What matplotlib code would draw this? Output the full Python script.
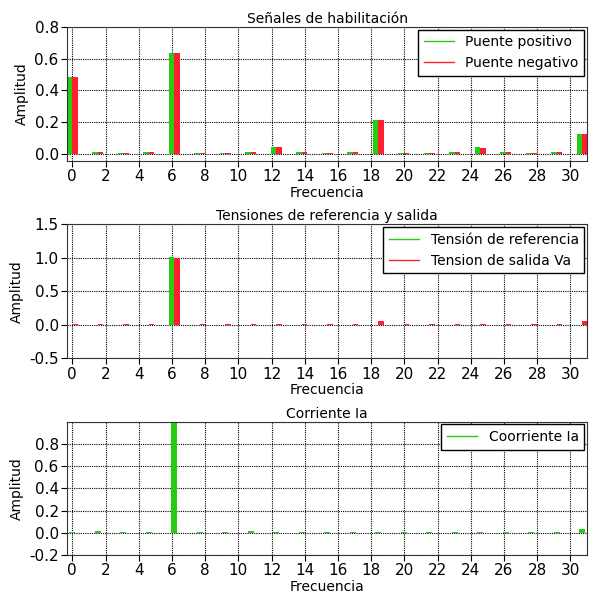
import matplotlib.pyplot as plt
from matplotlib.lines import Line2D

# armónicos (k * f0)
freq = [1.535 * k for k in range(21)]

puente_pos = [0.485, 0.01, 0.005, 0.008, 0.638, 0.005, 0.005, 0.01, 0.04, 0.008, 0.005,
              0.008, 0.212, 0.005, 0.005, 0.008, 0.042, 0.008, 0.005, 0.008, 0.125]
puente_neg = [0.485, 0.01, 0.005, 0.008, 0.638, 0.005, 0.005, 0.01, 0.04, 0.008, 0.005,
              0.008, 0.212, 0.005, 0.005, 0.008, 0.038, 0.008, 0.005, 0.008, 0.125]

tension_ref = [0.0, 0.002, 0.0, 0.0, 1.01, 0.0, 0.0, 0.0, 0.0, 0.0, 0.0,
               0.0, 0.0, 0.0, 0.0, 0.0, 0.0, 0.0, 0.0, 0.0, 0.0]
tension_va = [0.005, 0.008, 0.005, 0.005, 0.995, 0.005, 0.005, 0.008, 0.005, 0.008, 0.005,
              0.005, 0.06, 0.005, 0.005, 0.008, 0.005, 0.008, 0.005, 0.005, 0.06]

corriente = [0.004, 0.012, 0.003, 0.003, 1.05, 0.003, 0.003, 0.012, 0.003, 0.005, 0.003,
             0.003, 0.003, 0.003, 0.003, 0.003, 0.003, 0.003, 0.003, 0.003, 0.03]

xticks = list(range(0, 31, 2))

GREEN = "#26cc14"
RED = "#ff1f2e"
W = 0.33

plt.rcParams["font.family"] = ["DejaVu Sans"]
plt.rcParams["font.size"] = 10

fig = plt.figure(figsize=(5.95, 5.97), dpi=100, facecolor="white")


def style_axes(ax, title, ylim, yticks):
    ax.set_xlim(-0.32, 31)
    ax.set_ylim(*ylim)
    ax.set_xticks(xticks)
    ax.set_yticks(yticks)
    ax.set_yticklabels([f"{t:.1f}" for t in yticks])
    ax.grid(True, color="black", linestyle=(0, (1, 1)), linewidth=0.8)
    ax.set_axisbelow(True)
    ax.set_title(title, fontsize=10, pad=3)
    ax.set_xlabel("Frecuencia", fontsize=10, labelpad=1)
    ax.set_ylabel("Amplitud", fontsize=10, labelpad=4)
    ax.tick_params(direction="out", length=4, width=0.8, pad=2, labelsize=11)
    for sp in ax.spines.values():
        sp.set_color("#333333")


def legend(ax, labels, colors):
    handles = [Line2D([], [], color=c, lw=1) for c in colors]
    ax.legend(handles, labels, loc="upper right", fancybox=False, edgecolor="black",
              framealpha=1, borderaxespad=0.2, handlelength=2.2, fontsize=10)


ax1 = fig.add_axes([0.1126, 0.7303, 0.874, 0.2245])
ax1.bar([f - W / 2 for f in freq], puente_pos, width=W, color=GREEN)
ax1.bar([f + W / 2 for f in freq], puente_neg, width=W, color=RED)
style_axes(ax1, "Señales de habilitación", (-0.047, 0.8), [0.0, 0.2, 0.4, 0.6, 0.8])
legend(ax1, ["Puente positivo", "Puente negativo"], [GREEN, RED])

ax2 = fig.add_axes([0.1126, 0.3998, 0.874, 0.2245])
ax2.bar([f - W / 2 for f in freq], tension_ref, width=W, color=GREEN)
ax2.bar([f + W / 2 for f in freq], tension_va, width=W, color=RED)
style_axes(ax2, "Tensiones de referencia y salida", (-0.5, 1.5), [-0.5, 0.0, 0.5, 1.0, 1.5])
legend(ax2, ["Tensión de referencia", "Tension de salida Va"], [GREEN, RED])

ax3 = fig.add_axes([0.1126, 0.0704, 0.874, 0.2232])
ax3.bar(freq, corriente, width=0.36, color=GREEN)
style_axes(ax3, "Corriente Ia", (-0.2, 1.0), [-0.2, 0.0, 0.2, 0.4, 0.6, 0.8])
ax3.set_yticks([1.0], minor=True)
ax3.grid(True, which="minor", color="black", linestyle=(0, (1, 1)), linewidth=0.8)
ax3.tick_params(which="minor", length=0)
legend(ax3, ["Coorriente Ia"], [GREEN])

fig.savefig("out.png", dpi=100)
